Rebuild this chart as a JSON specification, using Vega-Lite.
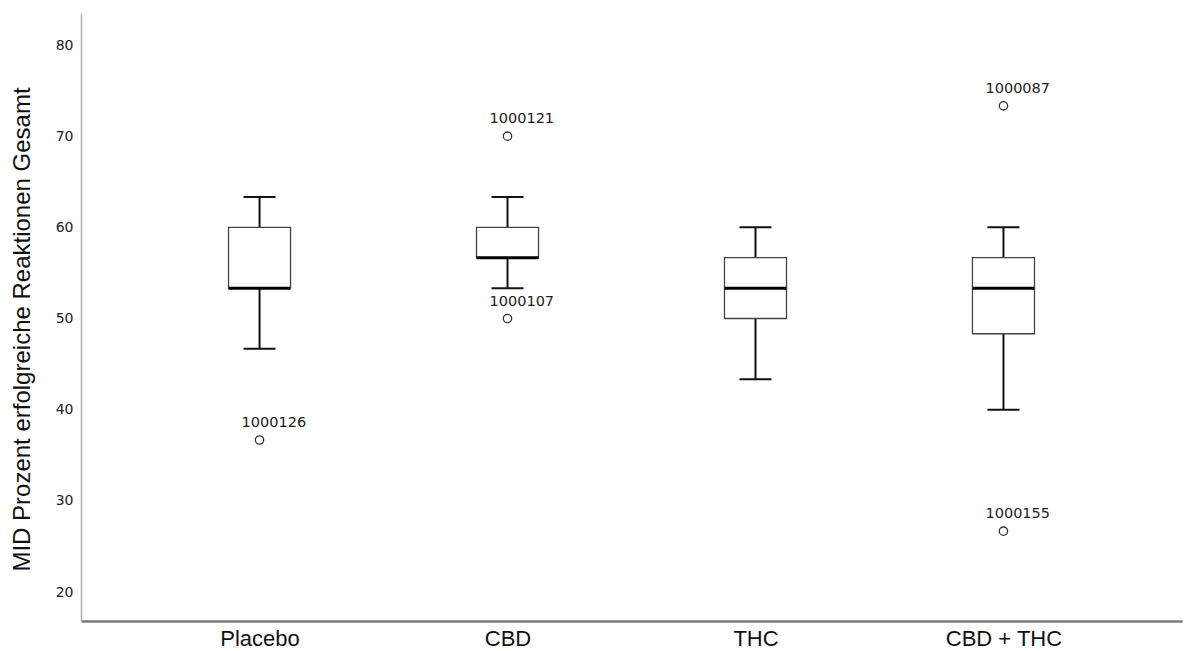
{
  "$schema": "https://vega.github.io/schema/vega-lite/v6.json",
  "autosize": {"type": "none"},
  "padding": {"left": 81, "top": 13, "right": 3, "bottom": 30},
  "width": 1101,
  "height": 608,
  "background": "white",
  "config": {"view": {"stroke": null}},
  "datasets": {
    "boxes": [
      {"gruppe": "Placebo", "lower": 46.67, "q1": 53.33, "median": 53.33, "q3": 60.0, "upper": 63.33},
      {"gruppe": "CBD", "lower": 53.33, "q1": 56.67, "median": 56.67, "q3": 60.0, "upper": 63.33},
      {"gruppe": "THC", "lower": 43.33, "q1": 50.0, "median": 53.33, "q3": 56.67, "upper": 60.0},
      {"gruppe": "CBD + THC", "lower": 40.0, "q1": 48.33, "median": 53.33, "q3": 56.67, "upper": 60.0}
    ],
    "outliers": [
      {"gruppe": "Placebo", "wert": 36.67, "id": "1000126"},
      {"gruppe": "CBD", "wert": 70.0, "id": "1000121"},
      {"gruppe": "CBD", "wert": 50.0, "id": "1000107"},
      {"gruppe": "CBD + THC", "wert": 73.33, "id": "1000087"},
      {"gruppe": "CBD + THC", "wert": 26.67, "id": "1000155"}
    ]
  },
  "encoding": {
    "x": {
      "field": "gruppe",
      "type": "nominal",
      "sort": ["Placebo", "CBD", "THC", "CBD + THC"],
      "scale": {"type": "point", "padding": 0.72, "domain": ["Placebo", "CBD", "THC", "CBD + THC"]},
      "axis": {
        "title": null,
        "labelAngle": 0,
        "ticks": false,
        "grid": false,
        "domainColor": "#7a7a7a",
        "domainWidth": 2.5,
        "labelFont": "Liberation Sans",
        "labelFontSize": 22,
        "labelColor": "#111111",
        "labelPadding": 7
      }
    }
  },
  "layer": [
    {
      "data": {"name": "boxes"},
      "mark": {"type": "rule", "color": "#111111", "strokeWidth": 2},
      "encoding": {
        "y": {
          "field": "lower",
          "type": "quantitative",
          "scale": {"domain": [16.82, 83.51], "nice": false, "zero": false},
          "axis": {
            "values": [20, 30, 40, 50, 60, 70, 80],
            "ticks": false,
            "grid": false,
            "domainColor": "#b0b0b0",
            "domainWidth": 1.5,
            "labelFont": "DejaVu Sans",
            "labelFontSize": 14,
            "labelColor": "#222222",
            "labelPadding": 8,
            "title": "MID Prozent erfolgreiche Reaktionen Gesamt",
            "titleFont": "Liberation Sans",
            "titleFontSize": 24,
            "titleFontWeight": "normal",
            "titleColor": "#111111",
            "titleAngle": -90,
            "titleX": -59,
            "titleY": 316,
            "titleAlign": "center",
            "titleBaseline": "middle"
          }
        },
        "y2": {"field": "upper"}
      }
    },
    {
      "data": {"name": "boxes"},
      "mark": {"type": "bar", "size": 62, "fill": "white", "stroke": "#444444", "strokeWidth": 1.3},
      "encoding": {
        "y": {"field": "q1", "type": "quantitative"},
        "y2": {"field": "q3"}
      }
    },
    {
      "data": {"name": "boxes"},
      "mark": {"type": "tick", "size": 62, "thickness": 3, "color": "#000000", "opacity": 1},
      "encoding": {"y": {"field": "median", "type": "quantitative"}}
    },
    {
      "data": {"name": "boxes"},
      "mark": {"type": "tick", "size": 32, "thickness": 2, "color": "#111111", "opacity": 1},
      "encoding": {"y": {"field": "upper", "type": "quantitative"}}
    },
    {
      "data": {"name": "boxes"},
      "mark": {"type": "tick", "size": 32, "thickness": 2, "color": "#111111", "opacity": 1},
      "encoding": {"y": {"field": "lower", "type": "quantitative"}}
    },
    {
      "data": {"name": "outliers"},
      "mark": {"type": "point", "shape": "circle", "filled": false, "size": 70, "stroke": "#333333", "strokeWidth": 1.3, "opacity": 1},
      "encoding": {"y": {"field": "wert", "type": "quantitative"}}
    },
    {
      "data": {"name": "outliers"},
      "mark": {"type": "text", "align": "left", "baseline": "middle", "dx": -18, "dy": -17, "font": "DejaVu Sans", "fontSize": 14.5, "color": "#222222"},
      "encoding": {
        "y": {"field": "wert", "type": "quantitative"},
        "text": {"field": "id"}
      }
    }
  ]
}
